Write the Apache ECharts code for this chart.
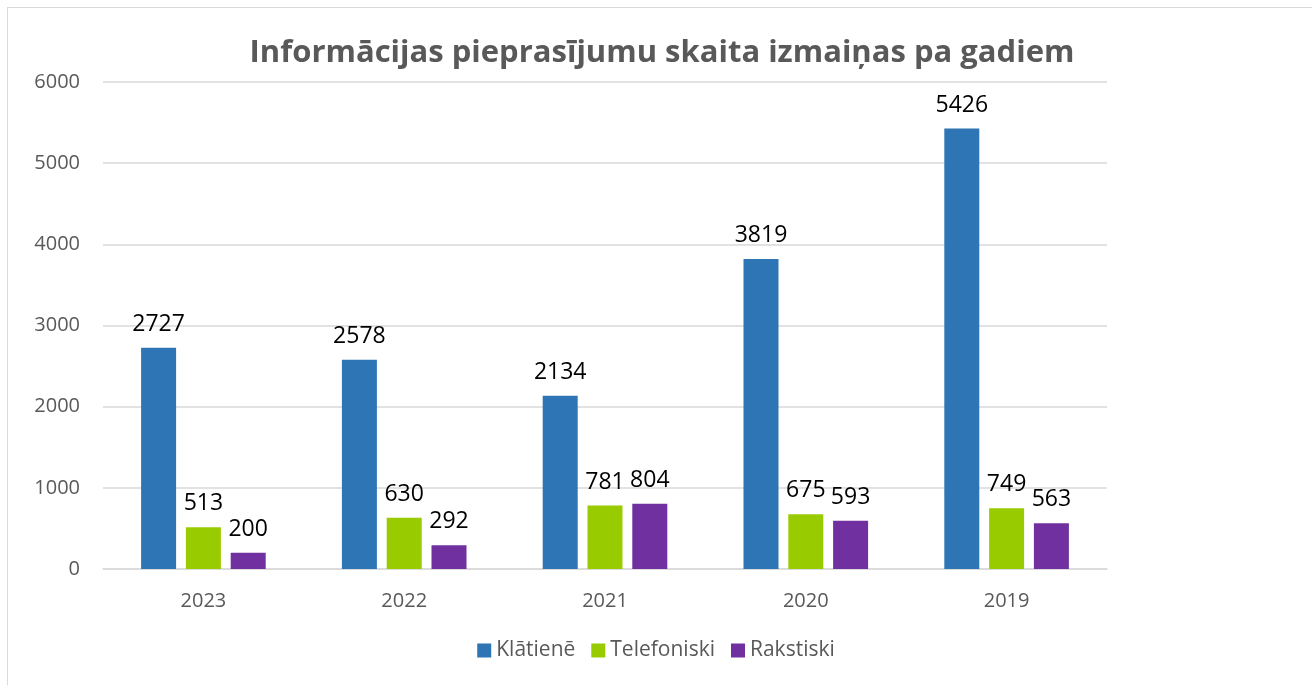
<!DOCTYPE html>
<html>
<head>
<meta charset="utf-8">
<script src="https://cdn.jsdelivr.net/npm/echarts@6/dist/echarts.min.js"></script>
<style>
  html, body { margin: 0; padding: 0; background: #fff; }
  #frame { position: absolute; left: 7px; top: 7px; width: 1320px; height: 700px; border: 1px solid #d9d9d9; }
  #chart { width: 1312px; height: 685px; }
</style>
</head>
<body>
<div id="frame"></div>
<div id="chart"></div>
<script>
const years = ["2023", "2022", "2021", "2020", "2019"];
const klatiene = [2727, 2578, 2134, 3819, 5426];
const telefoniski = [513, 630, 781, 675, 749];
const rakstiski = [200, 292, 804, 593, 563];

const textFont = "Open Sans";
const gray = "#595959";

function barSeries(name, data, color) {
    return {
        name,
        type: "bar",
        data,
        barWidth: 35,
        barGap: "28%",
        itemStyle: { color },
        label: {
            show: true,
            position: "top",
            distance: 12,
            color: "#000",
            fontSize: 23,
            fontFamily: textFont,
        },
    };
}

const chart = echarts.init(document.getElementById("chart"));
chart.setOption({
    animation: false,
    title: {
        text: "Informācijas pieprasījumu skaita izmaiņas pa gadiem",
        left: 657,
        top: 33,
        textAlign: "center",
        textStyle: {
            color: gray,
            fontSize: 31,
            fontWeight: "bold",
            fontFamily: textFont,
        },
    },
    legend: {
        bottom: 19,
        left: "center",
        icon: "rect",
        itemWidth: 14,
        itemHeight: 14,
        itemGap: 16,
        itemStyle: { borderWidth: 0 },
        textStyle: { color: gray, fontSize: 21, fontFamily: textFont },
    },
    grid: {
        left: 103,
        right: 205,
        top: 82,
        bottom: 116,
        containLabel: false,
    },
    xAxis: {
        type: "category",
        data: years,
        axisLine: { lineStyle: { color: "#d9d9d9", width: 1.5 } },
        axisTick: { show: false },
        axisLabel: { color: gray, fontSize: 20, fontFamily: textFont, margin: 22 },
    },
    yAxis: {
        type: "value",
        min: 0,
        max: 6000,
        interval: 1000,
        axisLine: { show: false },
        axisTick: { show: false },
        splitLine: { lineStyle: { color: "#d9d9d9", width: 1.5 } },
        axisLabel: {
            color: gray,
            fontSize: 20,
            fontFamily: textFont,
            margin: 23,
            formatter: (v) => String(v),
        },
    },
    series: [
        barSeries("Klātienē", klatiene, "#2E75B6"),
        barSeries("Telefoniski", telefoniski, "#99CC00"),
        barSeries("Rakstiski", rakstiski, "#7030A0"),
    ],
});
</script>
</body>
</html>
